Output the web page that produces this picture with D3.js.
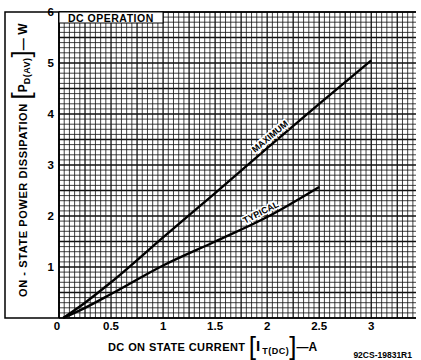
<!DOCTYPE html>
<html lang="en">
<head>
    <meta charset="UTF-8">
    <title>DC On-State Power Dissipation</title>
    <style>
        body { margin: 0; background: #fff; }
        svg { display: block; font-family: "Liberation Sans", Arial, sans-serif; font-weight: bold; }
    </style>
</head>
<body>
    <svg id="chart"></svg>

    <script src="https://d3js.org/d3.v7.min.js"></script>
    <script>
        // Curves: [current A, power W]
        const maximum = [[0.04, 0], [0.25, 0.3], [0.5, 0.7], [1, 1.58], [1.5, 2.45], [2, 3.33], [2.5, 4.2], [3, 5.05]];
        const typical = [[0.04, 0], [0.25, 0.2], [0.5, 0.47], [1, 1.03], [1.5, 1.5], [2, 1.98], [2.5, 2.57]];
        const xTicks = [0, 0.5, 1, 1.5, 2, 2.5, 3];
        const xTickLabels = ['0', '0.5', '1', '1.5', '2', '2.5', '3'];
        const yTicks = [1, 2, 3, 4, 5, 6];

        const width = 421, height = 360;
        const plotLeft = 59, plotRight = 416, plotTop = 12, plotBottom = 318;

        const svg = d3.select('#chart')
            .attr('width', width)
            .attr('height', height);

        const x = d3.scaleLinear().domain([0, 3.43]).range([plotLeft, plotRight]);
        const y = d3.scaleLinear().domain([0, 6]).range([plotBottom, plotTop]);

        // graph paper
        const grid = svg.append('g');
        const xs = d3.range(0, 69).map(i => i * 0.05);
        const ys = d3.range(0, 61).map(i => i * 0.1);

        grid.selectAll('.vx')
            .data(xs)
            .enter()
            .append('line')
            .attr('x1', d => x(d)).attr('x2', d => x(d))
            .attr('y1', plotTop).attr('y2', plotBottom)
            .attr('stroke', '#111')
            .attr('stroke-width', (d, i) => i % 5 === 0 ? 1.3 : 0.8);

        grid.selectAll('.hy')
            .data(ys)
            .enter()
            .append('line')
            .attr('x1', plotLeft).attr('x2', plotRight)
            .attr('y1', d => y(d)).attr('y2', d => y(d))
            .attr('stroke', '#111')
            .attr('stroke-width', (d, i) => i % 5 === 0 ? 1.3 : 0.8);

        // outer frame, including the y label panel
        svg.append('path')
            .attr('d', `M${plotRight},${plotTop} H5 V${plotBottom} H${plotRight}`)
            .attr('fill', 'none')
            .attr('stroke', '#000')
            .attr('stroke-width', 1.5);

        svg.append('line')
            .attr('x1', plotLeft).attr('x2', plotLeft)
            .attr('y1', plotTop).attr('y2', plotBottom)
            .attr('stroke', '#000')
            .attr('stroke-width', 1.8);

        // DC OPERATION box
        svg.append('rect')
            .attr('x', plotLeft).attr('y', plotTop)
            .attr('width', 104).attr('height', 11)
            .attr('fill', '#fff')
            .attr('stroke', '#000')
            .attr('stroke-width', 1);

        svg.append('text')
            .attr('x', 68).attr('y', 21.5)
            .attr('font-size', 10.5)
            .attr('letter-spacing', 0.5)
            .text('DC OPERATION');

        // curves
        const line = d3.line()
            .x(d => x(d[0]))
            .y(d => y(d[1]))
            .curve(d3.curveMonotoneX);

        [maximum, typical].forEach(s => {
            svg.append('path')
                .attr('d', line(s))
                .attr('fill', 'none')
                .attr('stroke', '#000')
                .attr('stroke-width', 2.4);
        });

        // curve labels
        function curveLabel(text, xv, pts, angle, dy) {
            let yv = 0;
            for (let i = 1; i < pts.length; i++) {
                if (xv <= pts[i][0]) {
                    const t = (xv - pts[i - 1][0]) / (pts[i][0] - pts[i - 1][0]);
                    yv = pts[i - 1][1] + t * (pts[i][1] - pts[i - 1][1]);
                    break;
                }
            }
            svg.append('text')
                .attr('transform', `translate(${x(xv)},${y(yv)}) rotate(${angle})`)
                .attr('text-anchor', 'middle')
                .attr('dy', dy)
                .attr('font-size', 9)
                .attr('stroke', '#fff')
                .attr('stroke-width', 3)
                .attr('paint-order', 'stroke')
                .text(text);
        }
        curveLabel('MAXIMUM', 2.07, maximum, -40, -4);
        curveLabel('TYPICAL', 1.97, typical, -27, -4);

        // tick labels
        svg.selectAll('.xt')
            .data(xTicks)
            .enter()
            .append('text')
            .attr('x', d => x(d) - (d === 0 ? 2 : 0))
            .attr('y', 330)
            .attr('text-anchor', 'middle')
            .attr('font-size', 11.5)
            .text((d, i) => xTickLabels[i]);

        svg.selectAll('.yt')
            .data(yTicks)
            .enter()
            .append('text')
            .attr('x', 54)
            .attr('y', d => y(d) + 4)
            .attr('text-anchor', 'end')
            .attr('font-size', 11.5)
            .text(d => d);

        // x title
        const xt = svg.append('text')
            .attr('x', 108).attr('y', 351)
            .attr('font-size', 11);
        xt.append('tspan').attr('letter-spacing', 0.4).text('DC ON STATE CURRENT ');
        xt.append('tspan').attr('font-size', 26).attr('font-weight', 'normal').attr('dy', 4).text('[');
        xt.append('tspan').attr('font-size', 15).attr('dy', -4).text('I');
        xt.append('tspan').attr('font-size', 9).attr('dy', 3).attr('dx', 2).attr('letter-spacing', 0.5).text('T(DC)');
        xt.append('tspan').attr('font-size', 26).attr('font-weight', 'normal').attr('dy', 1).text(']');
        xt.append('tspan').attr('font-size', 12).attr('dy', -4).text('—A');

        // y title
        const yt = svg.append('text')
            .attr('transform', 'translate(27,297) rotate(-90)')
            .attr('font-size', 11);
        yt.append('tspan').attr('letter-spacing', 0.6).text('ON - STATE POWER DISSIPATION ');
        yt.append('tspan').attr('font-size', 26).attr('font-weight', 'normal').attr('dy', 3).text('[');
        yt.append('tspan').attr('font-size', 12).attr('dy', -3).text('P');
        yt.append('tspan').attr('font-size', 9).attr('dy', 3).attr('letter-spacing', 0.5).text('D(AV)');
        yt.append('tspan').attr('font-size', 26).attr('font-weight', 'normal').attr('dy', 0).text(']');
        yt.append('tspan').attr('font-size', 12).attr('dy', -3).text('— W');

        // figure number
        svg.append('text')
            .attr('x', 412).attr('y', 358)
            .attr('text-anchor', 'end')
            .attr('font-size', 8.5)
            .text('92CS-19831R1');
    </script>
</body>
</html>
